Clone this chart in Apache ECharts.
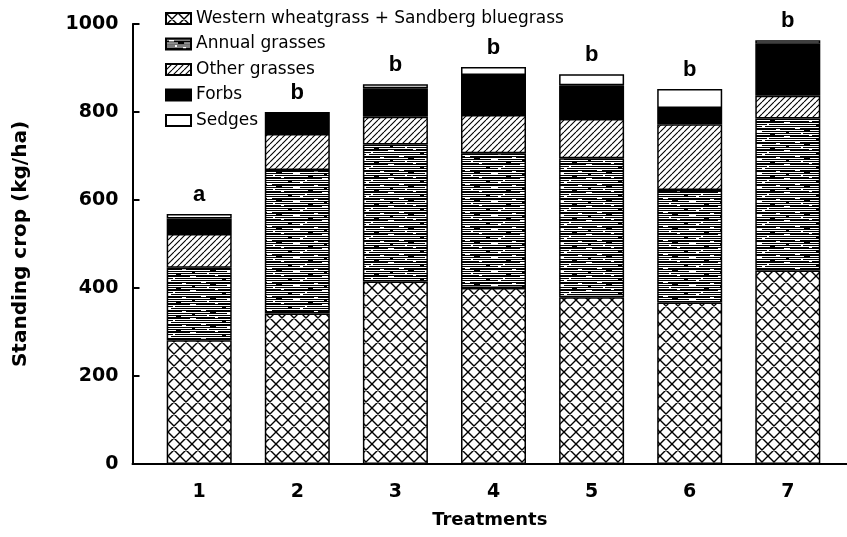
<!DOCTYPE html>
<html>
<head>
<meta charset="utf-8">
<script src="https://cdn.jsdelivr.net/npm/echarts@6/dist/echarts.min.js"></script>
<style>
  html, body { margin: 0; padding: 0; background: #fff; }
  #chart { width: 847px; height: 537px; }
</style>
</head>
<body>
<div id="chart"></div>
<script>
// Standing crop (kg/ha) by treatment, split into plant groups
const treatments = ['1', '2', '3', '4', '5', '6', '7'];
const wheatgrass = [281, 342, 415, 400, 379, 367, 440];
const annualGrasses = [165, 326, 311, 306, 316, 256, 345];
const otherGrasses = [77, 82, 63, 87, 89, 149, 52];
const forbs = [35, 43, 65, 91, 77, 37, 118];
const sedges = [10, 7, 9, 18, 25, 43, 8];
const significance = ['a', 'b', 'b', 'b', 'b', 'b', 'b'];
const seriesNames = [
  'Western wheatgrass + Sandberg bluegrass',
  'Annual grasses',
  'Other grasses',
  'Forbs',
  'Sedges'
];

// Hatch fills drawn on small tiles and repeated
function makePattern(w, h, draw) {
  const c = document.createElement('canvas');
  c.width = w; c.height = h;
  const ctx = c.getContext('2d');
  ctx.fillStyle = '#fff';
  ctx.fillRect(0, 0, w, h);
  ctx.strokeStyle = '#000';
  ctx.fillStyle = '#000';
  draw(ctx, w, h);
  return { image: c, repeat: 'repeat' };
}

const crossHatch = makePattern(12, 12, (ctx) => {
  ctx.lineWidth = 1.4;
  ctx.beginPath();
  for (const k of [-12, 0, 12]) {
    ctx.moveTo(k, 0); ctx.lineTo(k + 12, 12);
    ctx.moveTo(k + 12, 0); ctx.lineTo(k, 12);
  }
  ctx.stroke();
});

// dense horizontal ruling with an uneven weight
const horizontalLines = makePattern(66, 14, (ctx, w) => {
  const rows = [1, 0, 1, 1, 0, 1, 0, 1, 0, 1, 1, 0, 1, 0];
  rows.forEach((on, y) => { if (on) ctx.fillRect(0, y, w, 1); });
  ctx.fillStyle = '#fff';
  const gaps = [[3, 2, 5], [17, 9, 3], [29, 5, 7], [41, 12, 2], [50, 3, 4], [58, 10, 6], [9, 7, 2], [36, 0, 3]];
  gaps.forEach(([x, y, len]) => ctx.fillRect(x, y, len, 1));
  ctx.fillStyle = '#000';
  const dashes = [[12, 4, 6], [44, 8, 5], [24, 13, 4], [60, 6, 3]];
  dashes.forEach(([x, y, len]) => ctx.fillRect(x, y, len, 1));
});

const diagonalLines = makePattern(6, 6, (ctx) => {
  ctx.lineWidth = 1.1;
  ctx.beginPath();
  for (const k of [-6, 0, 6]) {
    ctx.moveTo(k, 6); ctx.lineTo(k + 6, 0);
  }
  ctx.stroke();
});

const fills = [crossHatch, horizontalLines, diagonalLines, '#000', '#fff'];
const values = [wheatgrass, annualGrasses, otherGrasses, forbs, sedges];

const chart = echarts.init(document.getElementById('chart'), null, { renderer: 'canvas' });

const series = seriesNames.map((name, i) => ({
  name: name,
  type: 'bar',
  stack: 'total',
  barWidth: 65,
  xAxisIndex: 0,
  yAxisIndex: 0,
  data: values[i],
  itemStyle: { color: fills[i], borderColor: '#000', borderWidth: 1.5 },
  emphasis: { disabled: true },
  label: i === seriesNames.length - 1 ? {
    show: true,
    position: 'top',
    distance: 8,
    formatter: (p) => significance[p.dataIndex],
    fontFamily: 'Liberation Sans',
    fontWeight: 'bold',
    fontSize: 22,
    color: '#000'
  } : { show: false }
}));

const plotTop = 24;
const plotBottom = 73;

chart.setOption({
  animation: false,
  backgroundColor: '#fff',
  textStyle: { fontFamily: 'DejaVu Sans', color: '#000' },
  grid: [
    // bars
    { left: 150.15, right: 10.15, top: plotTop, bottom: plotBottom },
    // full-width baseline
    { left: 132.5, right: 0, top: plotTop, bottom: plotBottom }
  ],
  legend: {
    orient: 'vertical',
    left: 165,
    top: 10,
    padding: 0,
    itemWidth: 25,
    itemHeight: 11,
    itemGap: 8.5,
    icon: 'rect',
    selectedMode: false,
    textStyle: { fontFamily: 'DejaVu Sans', fontSize: 17, color: '#000' },
    data: seriesNames
  },
  xAxis: [
    {
      type: 'category',
      gridIndex: 0,
      data: treatments,
      axisLine: { show: false },
      axisTick: { show: false },
      splitLine: { show: false },
      axisLabel: {
        margin: 19,
        fontFamily: 'DejaVu Sans',
        fontWeight: 'bold',
        fontSize: 19,
        color: '#000'
      }
    },
    {
      type: 'value',
      gridIndex: 1,
      min: 0,
      max: 1,
      name: 'Treatments',
      nameLocation: 'middle',
      nameGap: 47,
      nameTextStyle: { fontFamily: 'DejaVu Sans', fontWeight: 'bold', fontSize: 18, color: '#000' },
      axisLine: { show: true, lineStyle: { color: '#000', width: 2 } },
      axisTick: { show: false },
      axisLabel: { show: false },
      splitLine: { show: false }
    }
  ],
  yAxis: [
    {
      type: 'value',
      gridIndex: 0,
      min: 0,
      max: 1000,
      interval: 200,
      offset: 17.65,
      name: 'Standing crop (kg/ha)',
      nameLocation: 'middle',
      nameRotate: 90,
      nameGap: 102,
      nameTextStyle: { fontFamily: 'DejaVu Sans', fontWeight: 'bold', fontSize: 20, color: '#000' },
      axisLine: { show: true, onZero: false, lineStyle: { color: '#000', width: 2 } },
      axisTick: { show: true, inside: true, length: 7, lineStyle: { color: '#000', width: 2 } },
      splitLine: { show: false },
      axisLabel: {
        margin: 14,
        formatter: (v) => String(v),
        fontFamily: 'DejaVu Sans',
        fontWeight: 'bold',
        fontSize: 19,
        color: '#000'
      }
    },
    {
      type: 'value',
      gridIndex: 1,
      min: 0,
      max: 1000,
      show: false
    }
  ],
  series: series
});
</script>
</body>
</html>
